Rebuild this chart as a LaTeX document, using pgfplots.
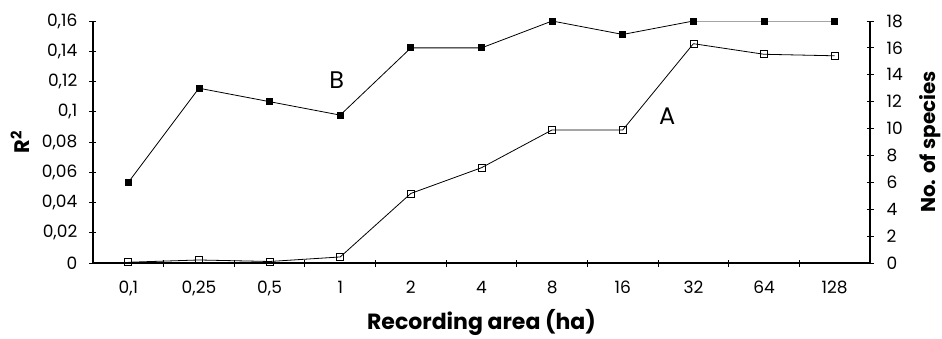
\documentclass[border=0pt]{standalone}
\usepackage{fontspec}
\setmainfont{Poppins}
\usepackage{pgfplots}
\pgfplotsset{compat=1.18}
\begin{document}
\begin{tikzpicture}
\pgfplotsset{every axis/.append style={
  scale only axis, width=777pt, height=242pt,
  xmin=-0.5, xmax=10.5,
  font=\fontsize{17}{20}\selectfont,
  /pgf/number format/assume math mode=true,
  tick align=center, major tick length=7pt,
  tick style={black, line width=0.9pt},
  axis line style={black, line width=1.1pt},
}}
\begin{axis}[
  axis x line*=bottom, axis y line*=left,
  ymin=0, ymax=0.16,
  ytick={0,0.02,0.04,0.06,0.08,0.1,0.12,0.14,0.16},
  scaled y ticks=false,
  yticklabel style={/pgf/number format/fixed, /pgf/number format/precision=2, /pgf/number format/use comma, anchor=east, inner sep=0pt, xshift=-12pt},
  xtick={0.5,1.5,2.5,3.5,4.5,5.5,6.5,7.5,8.5,9.5}, xticklabels={},
  extra x ticks={0,1,2,3,4,5,6,7,8,9,10},
  extra x tick labels={{0,1},{0,25},{0,5},1,2,4,8,16,32,64,128},
  extra x tick style={major tick length=0pt, xticklabel style={anchor=base, inner sep=0pt, yshift=-30pt}},
  xlabel={\bfseries Recording area (ha)},
  xlabel style={at={(rel axis cs:0.5,0)}, anchor=center, yshift=-59pt, font=\fontsize{22}{26}\selectfont},
  ylabel={\bfseries R\textsuperscript{2}},
  ylabel style={at={(rel axis cs:0,0.5)}, anchor=center, yshift=73pt, font=\fontsize{21}{24}\selectfont},
]
\addplot[black, line width=0.8pt, mark=square, mark size=3.5pt, mark options={fill=white, solid, line width=0.8pt}]
 coordinates {(0,0.0005) (1,0.002) (2,0.001) (3,0.004) (4,0.046) (5,0.063) (6,0.088) (7,0.088) (8,0.145) (9,0.138) (10,0.137)};
\node[font=\fontsize{24}{28}\selectfont] at (axis cs:2.95,0.121) {B};
\node[font=\fontsize{24}{28}\selectfont] at (axis cs:7.63,0.097) {A};
\end{axis}
\begin{axis}[
  axis y line*=right, axis x line=none,
  ymin=0, ymax=18,
  ytick={0,2,4,6,8,10,12,14,16,18},
  yticklabel style={anchor=west, inner sep=0pt, xshift=13pt},
  ylabel={\bfseries No. of species},
  ylabel style={at={(rel axis cs:1,0.5)}, anchor=center, yshift=-60pt, font=\fontsize{20}{24}\selectfont},
]
\addplot[black, line width=0.8pt, mark=square*, mark size=3pt, mark options={fill=black, solid}]
 coordinates {(0,6) (1,13) (2,12) (3,11) (4,16) (5,16) (6,18) (7,17) (8,18) (9,18) (10,18)};
\coordinate (bl) at (rel axis cs:0,0);
\coordinate (tr) at (rel axis cs:1,1);
\end{axis}
\pgfresetboundingbox
\path ([xshift=-93pt,yshift=-75pt]bl) rectangle ([xshift=72pt,yshift=21pt]tr);
\end{tikzpicture}
\end{document}
